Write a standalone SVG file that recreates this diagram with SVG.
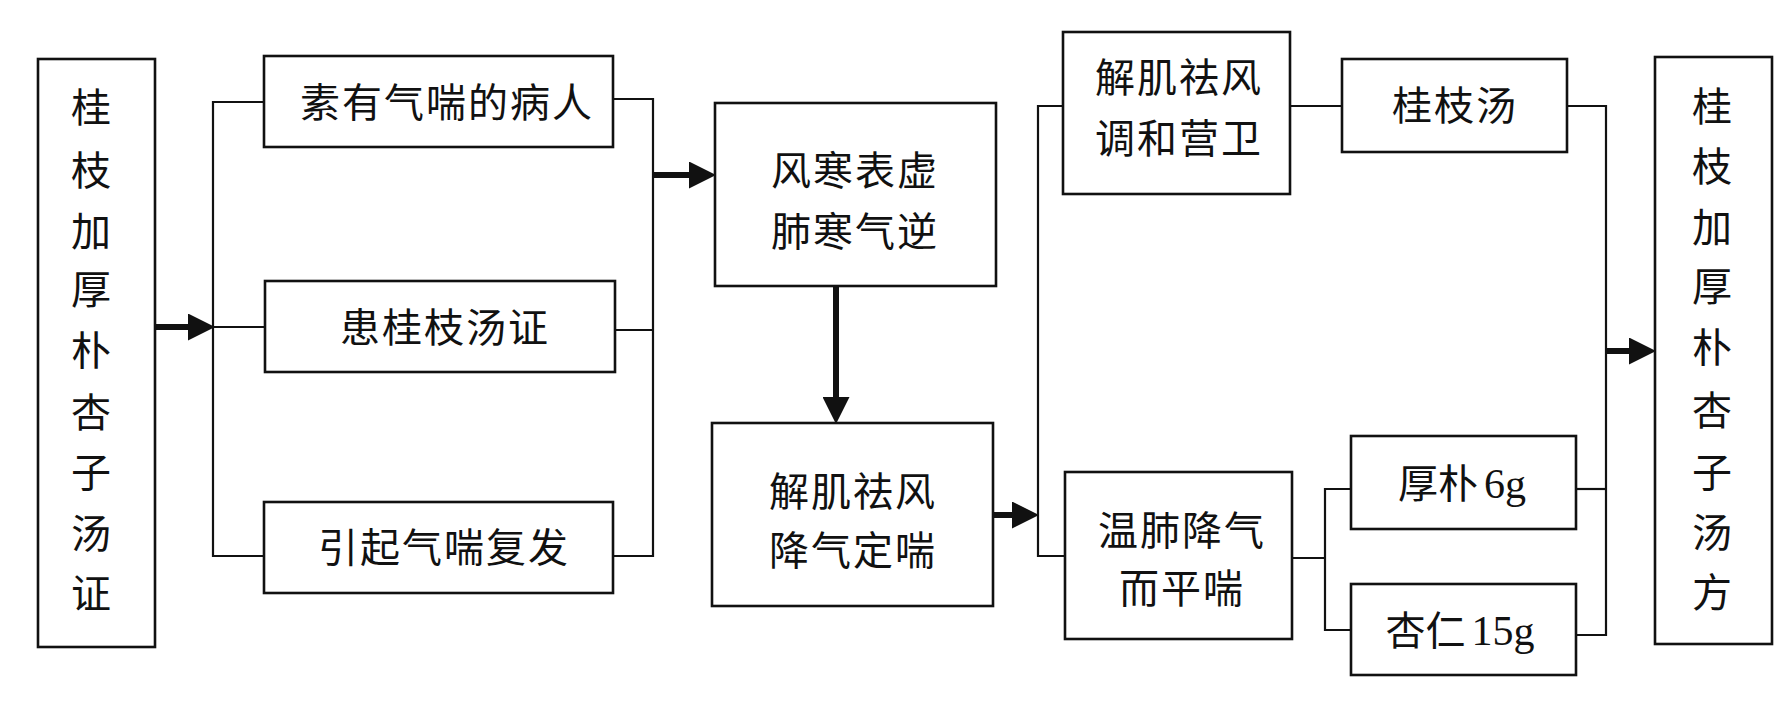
<svg xmlns="http://www.w3.org/2000/svg" width="1792" height="711" viewBox="0 0 1792 711">
<style>
.box{fill:#fff;stroke:#111;stroke-width:2.6}
.t{font-family:"Liberation Serif","Noto Sans CJK SC",serif;font-size:40px;fill:#111;text-anchor:middle;dominant-baseline:central}
.lat{font-size:42px}
.c{fill:none;stroke:#111;stroke-width:2.2}
.a{fill:none;stroke:#111;stroke-width:6}
</style>
<defs>
<marker id="ah" markerUnits="userSpaceOnUse" markerWidth="27" markerHeight="27" refX="0" refY="13.5" orient="auto" viewBox="0 0 27 27">
<path d="M0,0 L27,13.5 L0,27 Z" fill="#111"/>
</marker>
</defs>
<rect width="1792" height="711" fill="#fff"/>

<g id="connectors">
<polyline class="c" points="264,102 213,102 213,556 264,556"/>
<line class="c" x1="213" y1="327" x2="265" y2="327"/>
<polyline class="c" points="613,99 653,99 653,556 613,556"/>
<line class="c" x1="615" y1="330" x2="653" y2="330"/>
<polyline class="c" points="1063,106 1038,106 1038,556 1065,556"/>
<line class="c" x1="1290" y1="106" x2="1342" y2="106"/>
<polyline class="c" points="1567,106 1606,106 1606,635 1576,635"/>
<line class="c" x1="1576" y1="489" x2="1606" y2="489"/>
<line class="c" x1="1292" y1="558" x2="1325" y2="558"/>
<polyline class="c" points="1351,489 1325,489 1325,630 1351,630"/>
<line class="a" x1="155" y1="327" x2="188" y2="327" marker-end="url(#ah)"/>
<line class="a" x1="653" y1="175" x2="689" y2="175" marker-end="url(#ah)"/>
<line class="a" x1="836" y1="286" x2="836" y2="397" marker-end="url(#ah)"/>
<line class="a" x1="993" y1="515" x2="1012" y2="515" marker-end="url(#ah)"/>
<line class="a" x1="1606" y1="351" x2="1629" y2="351" marker-end="url(#ah)"/>
</g>

<g id="n_left">
<rect class="box" x="38" y="59" width="117" height="588"/>
<text class="t" x="91" y="108">桂</text>
<text class="t" x="91" y="171">枝</text>
<text class="t" x="91" y="232">加</text>
<text class="t" x="91" y="290">厚</text>
<text class="t" x="91" y="351">朴</text>
<text class="t" x="91" y="413">杏</text>
<text class="t" x="91" y="473">子</text>
<text class="t" x="91" y="534">汤</text>
<text class="t" x="91" y="594">证</text>
</g>

<g id="n_suyou">
<rect class="box" x="264" y="56" width="349" height="91"/>
<text class="t" x="447" y="103" style="letter-spacing:2px">素有气喘的病人</text>
</g>
<g id="n_huan">
<rect class="box" x="265" y="281" width="350" height="91"/>
<text class="t" x="445" y="328" style="letter-spacing:2px">患桂枝汤证</text>
</g>
<g id="n_yinqi">
<rect class="box" x="264" y="502" width="349" height="91"/>
<text class="t" x="444" y="548" style="letter-spacing:2px">引起气喘复发</text>
</g>

<g id="n_fenghan">
<rect class="box" x="715" y="103" width="281" height="183"/>
<text class="t" x="855" y="171" style="letter-spacing:2px">风寒表虚</text>
<text class="t" x="855" y="232" style="letter-spacing:2px">肺寒气逆</text>
</g>
<g id="n_jieji1">
<rect class="box" x="712" y="423" width="281" height="183"/>
<text class="t" x="853" y="492" style="letter-spacing:2px">解肌祛风</text>
<text class="t" x="853" y="551" style="letter-spacing:2px">降气定喘</text>
</g>

<g id="n_jieji2">
<rect class="box" x="1063" y="32" width="227" height="162"/>
<text class="t" x="1179" y="78" style="letter-spacing:2px">解肌祛风</text>
<text class="t" x="1179" y="139" style="letter-spacing:2px">调和营卫</text>
</g>
<g id="n_wenfei">
<rect class="box" x="1065" y="472" width="227" height="167"/>
<text class="t" x="1182" y="531" style="letter-spacing:2px">温肺降气</text>
<text class="t" x="1182" y="589" style="letter-spacing:2px">而平喘</text>
</g>

<g id="n_guizhitang">
<rect class="box" x="1342" y="59" width="225" height="93"/>
<text class="t" x="1455" y="106" style="letter-spacing:2px">桂枝汤</text>
</g>
<g id="n_houpu">
<rect class="box" x="1351" y="436" width="225" height="93"/>
<text class="t" x="1462" y="484">厚朴<tspan class="lat" dx="6">6g</tspan></text>
</g>
<g id="n_xingren">
<rect class="box" x="1351" y="584" width="225" height="91"/>
<text class="t" x="1460" y="631">杏仁<tspan class="lat" dx="6">15g</tspan></text>
</g>

<g id="n_right">
<rect class="box" x="1655" y="57" width="117" height="587"/>
<text class="t" x="1712" y="107">桂</text>
<text class="t" x="1712" y="167">枝</text>
<text class="t" x="1712" y="228">加</text>
<text class="t" x="1712" y="287">厚</text>
<text class="t" x="1712" y="348">朴</text>
<text class="t" x="1712" y="411">杏</text>
<text class="t" x="1712" y="473">子</text>
<text class="t" x="1712" y="533">汤</text>
<text class="t" x="1712" y="593">方</text>
</g>
</svg>
